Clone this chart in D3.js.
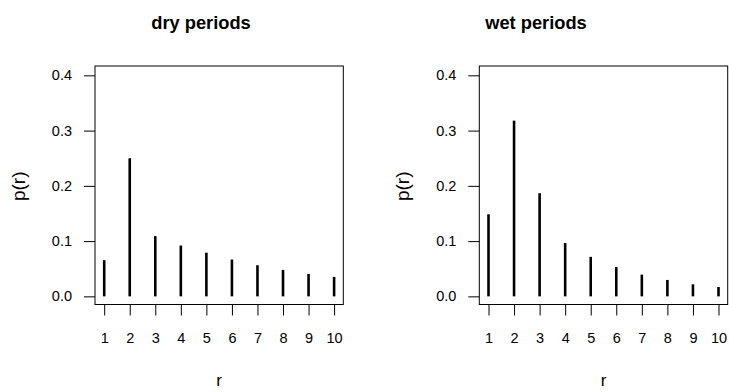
<!DOCTYPE html>
<html>
<head>
<meta charset="utf-8">
<script src="https://cdn.jsdelivr.net/npm/d3@7"></script>
<style>
  html, body { margin: 0; padding: 0; background: #fff; }
  svg { display: block; }
  text { font-family: "Liberation Sans", Arial, Helvetica, sans-serif; fill: #000; }
</style>
</head>
<body>
<svg id="chart" width="729" height="392"></svg>
<script>
// ---- data ----
const runLengths = [1, 2, 3, 4, 5, 6, 7, 8, 9, 10];
const dryProbs = [0.0655, 0.250, 0.109, 0.092, 0.079, 0.0667, 0.0564, 0.0479, 0.0406, 0.0352];
const wetProbs = [0.1485, 0.318, 0.1867, 0.0964, 0.0715, 0.0533, 0.0394, 0.0297, 0.0218, 0.0170];
const yTicks = [0.0, 0.1, 0.2, 0.3, 0.4];
const panelTitles = ["dry periods", "wet periods"];
const xLabel = "r";
const yLabel = "p(r)";

const svg = d3.select("#chart");
svg.append("rect").attr("width", 729).attr("height", 392).attr("fill", "#fff");

const panels = [
  { title: panelTitles[0], values: dryProbs, left: 95, right: 343.3, titleX: 201 },
  { title: panelTitles[1], values: wetProbs, left: 479.3, right: 727.7, titleX: 536 }
];
const plotTop = 66, plotBottom = 304.5;

panels.forEach(p => {
  const g = svg.append("g");
  const x = d3.scaleLinear().domain([0.64, 10.36]).range([p.left, p.right]);
  const y = d3.scaleLinear().domain([-0.016, 0.416]).range([plotBottom + 0.7, plotTop + 0.5]);

  // title
  g.append("text")
    .attr("x", p.titleX).attr("y", 29)
    .attr("text-anchor", "middle")
    .attr("font-size", 18.3).attr("font-weight", "bold")
    .text(p.title);

  // spikes
  g.selectAll("line.spike").data(p.values).enter().append("line")
    .attr("class", "spike")
    .attr("x1", (d, i) => x(runLengths[i])).attr("x2", (d, i) => x(runLengths[i]))
    .attr("y1", y(0)).attr("y2", d => y(d))
    .attr("stroke", "#000").attr("stroke-width", 2.6);

  // y axis
  const ya = g.append("g").attr("transform", `translate(${p.left},0)`)
    .call(d3.axisLeft(y).tickValues(yTicks).tickFormat(d3.format(".1f")).tickSize(11).tickPadding(12));
  ya.select(".domain").remove();
  ya.selectAll(".tick line").attr("stroke", "#000");
  ya.selectAll(".tick text").attr("font-size", 14.5).attr("font-family", "Liberation Sans, Arial, sans-serif").attr("fill", "#000");

  // x axis
  const xa = g.append("g").attr("transform", `translate(0,${plotBottom})`)
    .call(d3.axisBottom(x).tickValues(runLengths).tickFormat(d3.format("d")).tickSize(11).tickPadding(17));
  xa.select(".domain").remove();
  xa.selectAll(".tick line").attr("stroke", "#000");
  xa.selectAll(".tick text").attr("font-size", 14.5).attr("font-family", "Liberation Sans, Arial, sans-serif").attr("fill", "#000");

  // box
  g.append("rect")
    .attr("x", p.left).attr("y", plotTop)
    .attr("width", p.right - p.left).attr("height", plotBottom - plotTop)
    .attr("fill", "none").attr("stroke", "#000").attr("stroke-width", 1);

  // axis titles
  g.append("text")
    .attr("transform", `translate(${p.left - 70},${(plotTop + plotBottom) / 2 + 1}) rotate(-90)`)
    .attr("text-anchor", "middle")
    .attr("font-size", 19)
    .text(yLabel);
  g.append("text")
    .attr("x", (p.left + p.right) / 2).attr("y", 386)
    .attr("text-anchor", "middle")
    .attr("font-size", 17)
    .text(xLabel);
});
</script>
</body>
</html>
